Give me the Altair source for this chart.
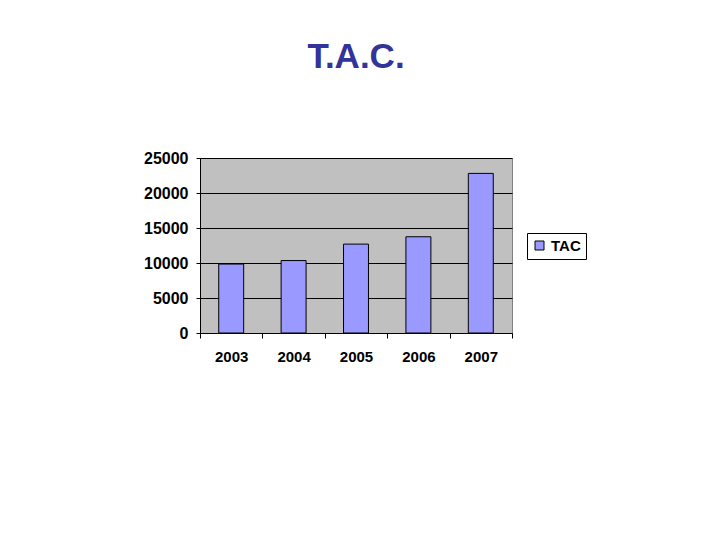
import altair as alt
import pandas as pd

years = ["2003", "2004", "2005", "2006", "2007"]
values = [9850, 10350, 12700, 13750, 22800]
series = ["TAC", "TAC", "TAC", "TAC", "TAC"]
y_ticks = [0, 5000, 10000, 15000, 20000, 25000]

df = pd.DataFrame({"year": years, "value": values, "series": series})

FONT = "Liberation Sans"

chart = alt.Chart(df).mark_bar(stroke="black", strokeWidth=1,
                               width=alt.RelativeBandSize(0.4)).encode(
    x=alt.X("year:N", title=None,
            scale=alt.Scale(paddingInner=0, paddingOuter=0),
            axis=alt.Axis(labelAngle=0, tickBand="extent", tickSize=5, tickColor="black",
                          domainColor="black", labelFont=FONT, labelFontSize=15,
                          labelFontWeight="bold", labelColor="black", labelPadding=11,
                          grid=False)),
    y=alt.Y("value:Q", title=None,
            scale=alt.Scale(domain=[0, 25000], nice=False),
            axis=alt.Axis(values=y_ticks, format="d", tickSize=4, tickColor="black",
                          domainColor="black",
                          labelFont=FONT, labelFontSize=16, labelFontWeight="bold",
                          labelColor="black", labelPadding=8, grid=True, gridColor="black",
                          gridWidth=1, gridOpacity=1)),
    color=alt.Color("series:N", scale=alt.Scale(range=["#9999FF"]),
                    legend=alt.Legend(title=None, orient="none", legendX=327, legendY=75,
                                      strokeColor="black", fillColor="white", padding=5,
                                      symbolType="square", symbolSize=81,
                                      symbolStrokeColor="black", symbolStrokeWidth=1,
                                      labelFont=FONT, labelFontSize=15, labelFontWeight="bold",
                                      labelColor="black", labelOffset=4)),
).properties(
    width=312,
    height=175,
    title=alt.TitleParams("T.A.C.", font=FONT, fontSize=35, fontWeight="bold",
                          color="#333399", anchor="middle", baseline="alphabetic", offset=47),
    padding={"left": 192, "top": 150, "right": 195, "bottom": 190},
    autosize="none",
).configure(background="white").configure_view(
    fill="#C0C0C0", stroke="#808080", strokeWidth=1
)

chart.save("out.html", embed_options={"renderer": "svg", "actions": False})
